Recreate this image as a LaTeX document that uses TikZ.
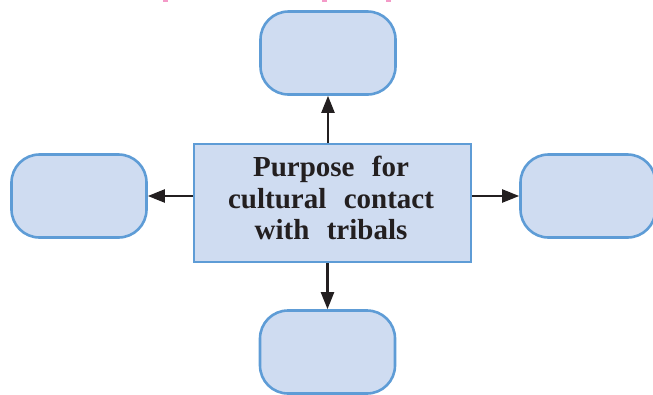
\documentclass[tikz,border=0pt]{standalone}
\usepackage{fontspec}
\setmainfont{Liberation Serif}
\usetikzlibrary{arrows.meta}
\definecolor{boxfill}{HTML}{CFDCF1}
\definecolor{boxline}{HTML}{5E9CD6}
\definecolor{arrowcol}{HTML}{231F20}
\definecolor{pinkmark}{HTML}{F49AC8}
\begin{document}
\begin{tikzpicture}[x=1pt,y=-1pt,
  roundbox/.style={draw=boxline, fill=boxfill, line width=2.6pt, rounded corners=28pt,
    minimum width=135pt, minimum height=83pt, inner sep=0pt},
  mainbox/.style={draw=boxline, fill=boxfill, line width=2pt,
    minimum width=277pt, minimum height=118pt, inner sep=0pt},
  maintext/.style={align=center, inner sep=0pt,
    font=\bfseries\fontsize{29pt}{31.5pt}\selectfont, text=arrowcol},
  arr/.style={draw=arrowcol, line width=2.2pt, -{Triangle[length=17pt,width=13pt]}}]
\useasboundingbox (0,0) rectangle (653,394);
% cut-off pink text fragments at top edge
\fill[pinkmark] (163,0) rectangle (168,1.5);
\fill[pinkmark] (322,0) rectangle (327,1.5);
\fill[pinkmark] (386,0) rectangle (391,1.5);
\node[mainbox] (c) at (332.5,203) {};
\node[maintext] (ctext) at (331,198) {Purpose\hspace{0.35em} for\\cultural\hspace{0.35em} contact\\with\hspace{0.35em} tribals};
\node[roundbox] (t) at (328,53) {};
\node[roundbox] (l) at (79,196) {};
\node[roundbox] (r) at (588,196) {};
\node[roundbox] (b) at (327.5,352) {};
\draw[arr] (c.north -| t.south) -- (t.south);
\draw[arr] (c.south -| b.north) -- (b.north);
\draw[arr] (c.west |- l.east) -- (l.east);
\draw[arr] (c.east |- r.west) -- (r.west);
\end{tikzpicture}
\end{document}
